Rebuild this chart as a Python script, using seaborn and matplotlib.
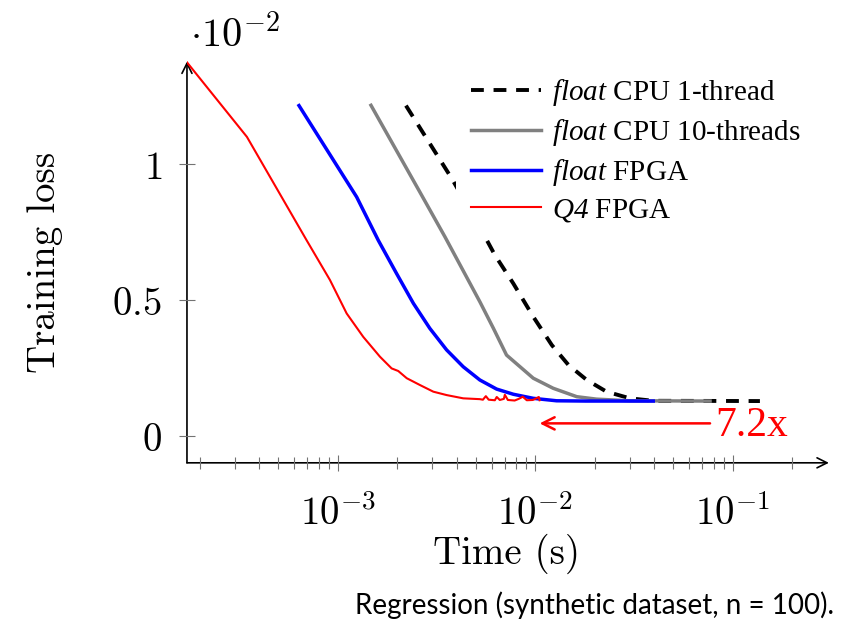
import numpy as np
import matplotlib
matplotlib.use("Agg")
import matplotlib.pyplot as plt
import seaborn as sns
from matplotlib.ticker import LogLocator, FixedLocator, FixedFormatter, NullFormatter

# ---- data (loss values in units of 1e-2) ----
cpu1_t = [2.21e-3, 3.77e-3, 5.44e-3, 6.24e-3, 7.73e-3, 9.75e-3, 1.21e-2, 1.47e-2,
          1.82e-2, 2.29e-2, 3.01e-2, 3.95e-2, 0.137]
cpu1_loss = [1.213, 0.945, 0.743, 0.663, 0.559, 0.437, 0.333, 0.2595,
             0.2045, 0.1615, 0.137, 0.128, 0.127]

cpu10_t = [1.47e-3, 2.60e-3, 3.48e-3, 4.48e-3, 5.24e-3, 6.12e-3, 7.14e-3, 9.75e-3,
           1.23e-2, 1.62e-2, 2.04e-2, 3.01e-2, 7.66e-2]
cpu10_loss = [1.214, 0.895, 0.731, 0.583, 0.491, 0.395, 0.296, 0.211,
              0.174, 0.143, 0.134, 0.128, 0.127]

fpga_t = [6.35e-4, 1.244e-3, 1.60e-3, 1.98e-3, 2.41e-3, 2.92e-3, 3.55e-3, 4.31e-3,
          5.23e-3, 6.36e-3, 7.73e-3, 9.76e-3, 1.28e-2, 1.8e-2, 3.95e-2]
fpga_loss = [1.213, 0.877, 0.718, 0.596, 0.486, 0.394, 0.315, 0.253,
             0.2045, 0.171, 0.152, 0.137, 0.128, 0.127, 0.127]

q4_t = [1.72e-4, 3.46e-4, 6.94e-4, 9.11e-4, 1.107e-3, 1.343e-3, 1.632e-3, 1.87e-3,
        2.02e-3, 2.23e-3, 2.60e-3, 3.04e-3, 3.55e-3, 4.31e-3, 5.23e-3, 5.42e-3,
        5.61e-3, 5.80e-3, 6.23e-3, 6.37e-3, 6.60e-3, 6.92e-3, 7.0e-3, 7.25e-3,
        7.85e-3, 8.23e-3, 8.63e-3, 9.04e-3, 9.7e-3, 1.04e-2, 1.05e-2]
q4_loss = [1.372, 1.098, 0.718, 0.572, 0.449, 0.363, 0.290, 0.247,
           0.2375, 0.211, 0.186, 0.1615, 0.149, 0.137, 0.134, 0.132,
           0.145, 0.132, 0.130, 0.142, 0.131, 0.135, 0.150, 0.131,
           0.129, 0.135, 0.143, 0.130, 0.131, 0.142, 0.130]

labels = [r"$\mathrm{float}$ CPU 1-thread", r"$\mathrm{float}$ CPU 10-threads",
          r"$\mathrm{float}$ FPGA", r"$\mathrm{Q4}$ FPGA"]
speedup_label = "7.2x"
caption = "Regression (synthetic dataset, n = 100)."
xtick_vals = [1e-3, 1e-2, 1e-1]
xtick_labels = [r"$10^{-3}$", r"$10^{-2}$", r"$10^{-1}$"]
ytick_vals = [0, 0.5, 1]
ytick_labels = [r"$0$", r"$0.5$", r"$1$"]

# ---- style ----
plt.rcParams["mathtext.fontset"] = "cm"
# the "custom" math font set is used only for the legend's italic words
plt.rcParams["mathtext.it"] = "Liberation Serif:italic"
plt.rcParams["mathtext.rm"] = "Liberation Serif:italic"
plt.rcParams["axes.unicode_minus"] = False

fig = plt.figure(figsize=(8.46, 6.34), dpi=100)
ax = fig.add_axes([0.221, 0.270, 0.755, 0.633])

sns.lineplot(x=cpu1_t, y=cpu1_loss, ax=ax, color="black", linewidth=2.8,
             sort=False, estimator=None, label=labels[0])
ax.lines[-1].set_dashes((3.3, 2.5))
sns.lineplot(x=cpu10_t, y=cpu10_loss, ax=ax, color="#808080", linewidth=2.5,
             sort=False, estimator=None, label=labels[1])
sns.lineplot(x=fpga_t, y=fpga_loss, ax=ax, color="#0000ff", linewidth=2.5,
             sort=False, estimator=None, label=labels[2])
sns.lineplot(x=q4_t, y=q4_loss, ax=ax, color="#ff0000", linewidth=1.5,
             sort=False, estimator=None, label=labels[3])

ax.set_xscale("log")
ax.set_xlim(q4_t[0], 0.295)
ax.set_ylim(-0.1, 1.375)

# ticks
ax.xaxis.set_major_locator(FixedLocator(xtick_vals))
ax.xaxis.set_major_formatter(FixedFormatter(xtick_labels))
ax.xaxis.set_minor_locator(LogLocator(base=10, subs=np.arange(2, 10)))
ax.xaxis.set_minor_formatter(NullFormatter())
ax.yaxis.set_major_locator(FixedLocator(ytick_vals))
ax.yaxis.set_major_formatter(FixedFormatter(ytick_labels))
ax.tick_params(axis="x", which="major", direction="inout", length=12, width=0.8,
               color="0.45", labelsize=28, pad=17)
ax.tick_params(axis="x", which="minor", direction="inout", length=8, width=0.8,
               color="0.45")
ax.tick_params(axis="y", which="major", direction="inout", length=12, width=0.8,
               color="0.45", labelsize=28, pad=12)

for s in ax.spines.values():
    s.set_visible(False)
# axis lines with arrow heads
ax.annotate("", xy=(1.005, 0), xytext=(0, 0), xycoords="axes fraction",
            textcoords="axes fraction",
            arrowprops=dict(arrowstyle="->", lw=1.2, color="black",
                            shrinkA=0, shrinkB=0, mutation_scale=18), zorder=1)
ax.annotate("", xy=(0, 1.0), xytext=(0, 0), xycoords="axes fraction",
            textcoords="axes fraction",
            arrowprops=dict(arrowstyle="->", lw=1.2, color="black",
                            shrinkA=0, shrinkB=0, mutation_scale=18), zorder=1)

# labels
ax.set_xlabel("Time (s)", fontfamily="cmr10", fontsize=28, va="center")
ax.xaxis.set_label_coords(0.5, -0.226)
ax.set_ylabel("Training loss", fontfamily="cmr10", fontsize=28, va="center")
ax.yaxis.set_label_coords(-0.222, 0.5)

fig.text(0.2246, 0.926, r"$\cdot 10^{-2}$", fontsize=29, ha="left", va="baseline")

# legend
handles = ax.lines[:4]
leg = ax.legend(handles=handles, labels=labels, loc="upper left",
                bbox_to_anchor=(0.539, 0.901), bbox_transform=fig.transFigure,
                frameon=True, facecolor="white", edgecolor="none", framealpha=1,
                fancybox=False, borderpad=0.5, borderaxespad=0, handlelength=2.4,
                handletextpad=0.38, labelspacing=0.3,
                prop={"family": "Liberation Serif", "size": 21})
for t in leg.get_texts():
    t.set_math_fontfamily("custom")

# speedup arrow between the CPU 10-threads end and the Q4 FPGA end
arrow_y = 0.045
ax.annotate("", xy=(q4_t[-1], arrow_y), xytext=(cpu10_t[-1], arrow_y),
            arrowprops=dict(arrowstyle="->", lw=1.8, color="#ff0000",
                            shrinkA=0, shrinkB=0, mutation_scale=22))
ax.annotate(speedup_label, xy=(cpu10_t[-1], arrow_y), xytext=(4, -2),
            textcoords="offset points", ha="left", va="center",
            color="#ff0000", fontsize=30, fontfamily="Liberation Serif")

fig.text(0.703, 0.046, caption, fontsize=20, fontfamily="Lato",
         ha="center", va="center")

fig.savefig("out.png", dpi=100)
